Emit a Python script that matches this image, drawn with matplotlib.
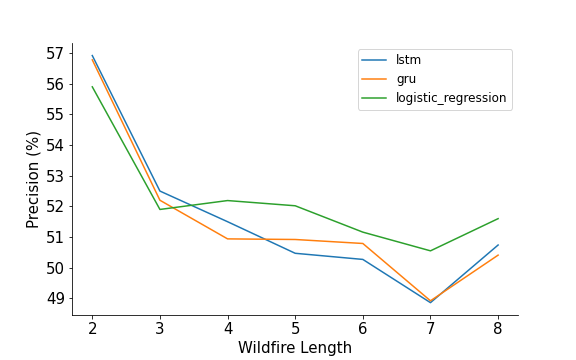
import matplotlib
matplotlib.use("Agg")
import matplotlib.pyplot as plt

# wildfire lengths and precision per model
lengths = [2, 3, 4, 5, 6, 7, 8]
lstm = [56.92, 52.50, 51.50, 50.47, 50.27, 48.86, 50.74]
gru = [56.78, 52.20, 50.94, 50.92, 50.79, 48.92, 50.41]
logistic_regression = [55.90, 51.90, 52.19, 52.02, 51.16, 50.55, 51.60]

fig, ax = plt.subplots(figsize=(8, 5), dpi=72)
fig.subplots_adjust(left=0.125, right=0.9, bottom=0.125, top=0.88)

ax.plot(lengths, lstm, label='lstm')
ax.plot(lengths, gru, label='gru')
ax.plot(lengths, logistic_regression, label='logistic_regression')

ax.set_xlabel('Wildfire Length', fontsize=15)
ax.set_ylabel('Precision (%)', fontsize=15)
ax.tick_params(labelsize=15)
ax.spines['top'].set_visible(False)
ax.spines['right'].set_visible(False)
ax.legend(fontsize=12, loc='upper right')

plt.savefig('out.png', dpi=72)
